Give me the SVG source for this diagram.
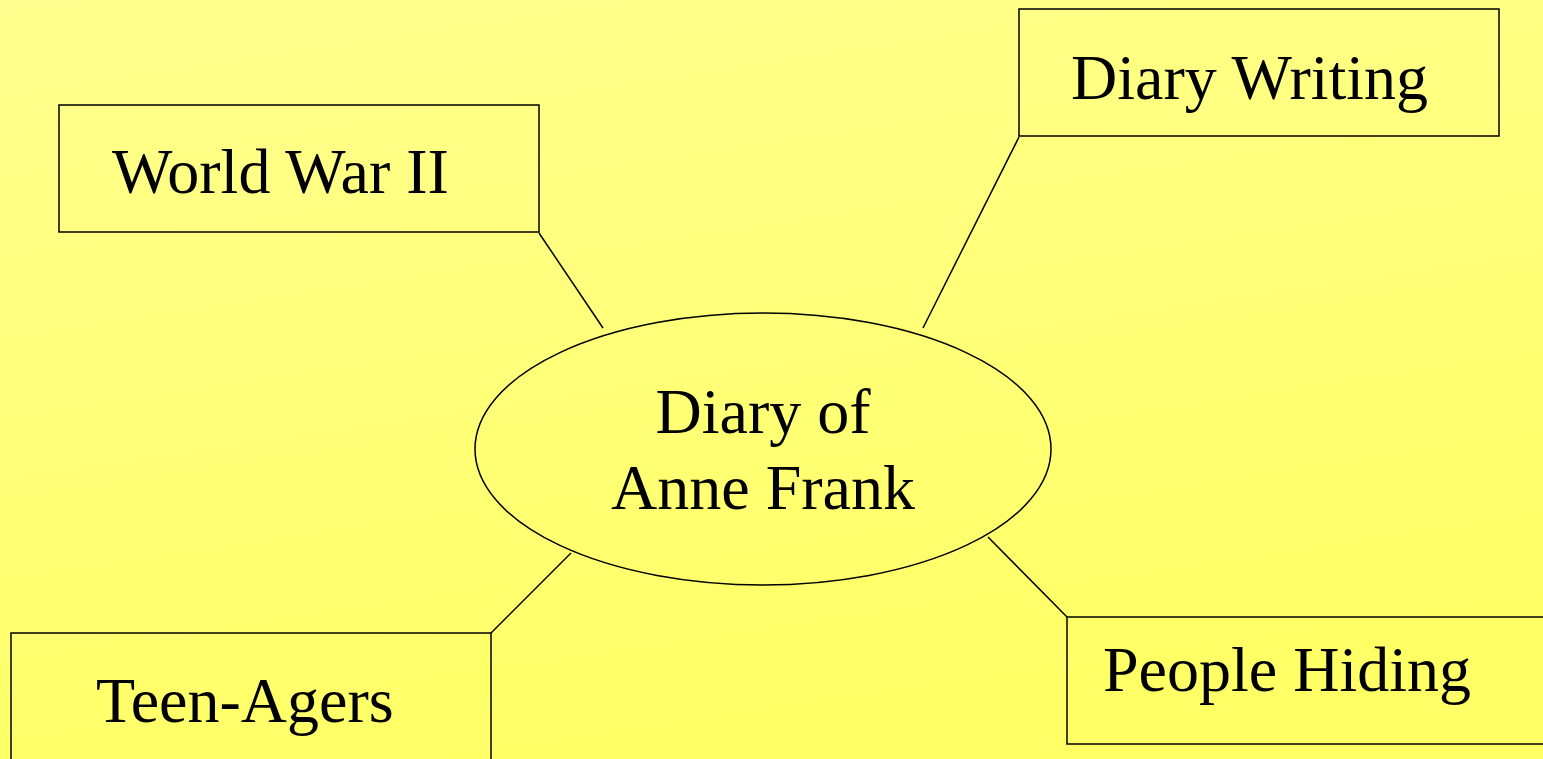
<svg xmlns="http://www.w3.org/2000/svg" width="1543" height="759" viewBox="0 0 1543 759">
<defs>
<linearGradient id="bg" x1="0" y1="0" x2="0.3" y2="1">
<stop offset="0" stop-color="#FFFF8F"/>
<stop offset="1" stop-color="#FFFF66"/>
</linearGradient>
<style>
.box{fill:none;stroke:#000;stroke-width:1.5}
.lbl{font-family:"Liberation Serif","Times New Roman",serif;font-size:64px;fill:#000}
.con line{stroke:#000;stroke-width:1.5}
</style>
</defs>
<rect width="1543" height="759" fill="url(#bg)"/>
<g class="con" id="connectors">
<line x1="539" y1="233" x2="603" y2="328"/>
<line x1="1019" y1="137" x2="923" y2="328"/>
<line x1="571" y1="553" x2="491" y2="633"/>
<line x1="988" y1="537" x2="1067" y2="617"/>
</g>
<g id="center">
<ellipse cx="763" cy="449" rx="288" ry="136" class="box"/>
<text class="lbl" x="763" y="433" text-anchor="middle">Diary of</text>
<text class="lbl" x="763" y="509" text-anchor="middle">Anne Frank</text>
</g>
<g id="ww2">
<rect class="box" x="59" y="105" width="480" height="127"/>
<text class="lbl" x="112" y="193">World War II</text>
</g>
<g id="diarywriting">
<rect class="box" x="1019" y="9" width="480" height="127"/>
<text class="lbl" x="1071" y="99">Diary Writing</text>
</g>
<g id="teenagers">
<rect class="box" x="11" y="633" width="480" height="140"/>
<text class="lbl" x="96" y="722">Teen-Agers</text>
</g>
<g id="peoplehiding">
<rect class="box" x="1067" y="617" width="490" height="127"/>
<text class="lbl" x="1103" y="691">People Hiding</text>
</g>
</svg>
